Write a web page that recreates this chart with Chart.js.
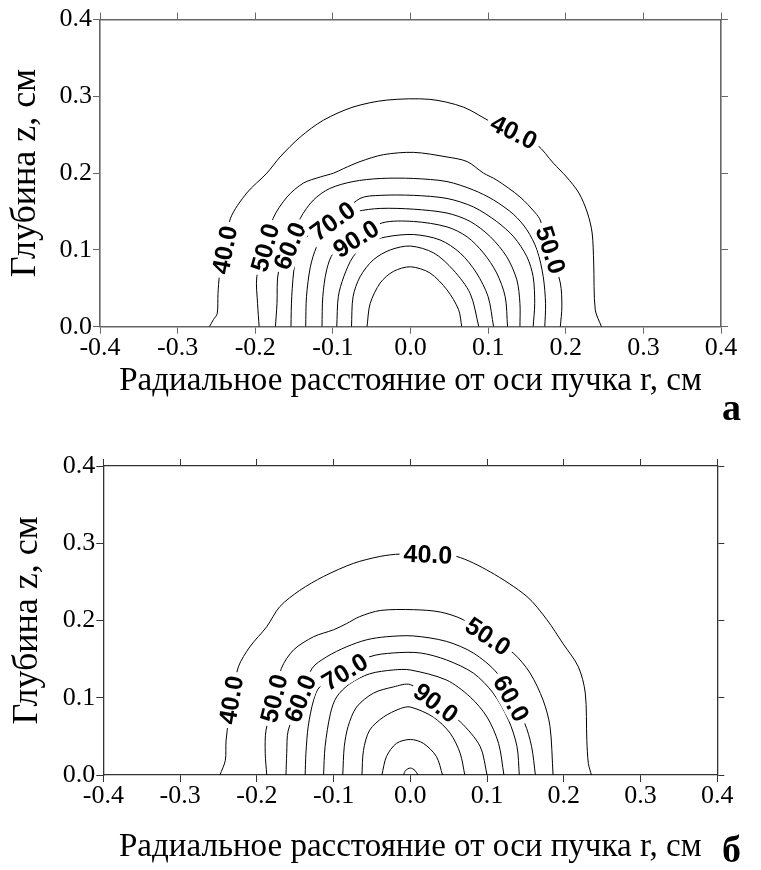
<!DOCTYPE html>
<html><head><meta charset="utf-8">
<script src="https://cdn.jsdelivr.net/npm/chart.js@4.4.1/dist/chart.umd.min.js"></script>
<style>
html,body{margin:0;padding:0;background:#fff;}
#wrap{position:relative;width:761px;height:870px;overflow:hidden;background:#fff;}
canvas{position:absolute;left:0;}
#cA{top:0px;} #cB{top:435px;}
.lbl{position:absolute;font-family:"Liberation Serif",serif;font-weight:bold;font-size:38px;line-height:1;color:#000;}
</style></head><body>
<div id="wrap">
<canvas id="cA" width="761" height="435"></canvas>
<canvas id="cB" width="761" height="435"></canvas>
<div class="lbl" style="left:722px;top:388px">а</div>
<div class="lbl" style="left:722px;top:830px">б</div>
</div>
<script>
// ---- tick labels / categories ----
const rTicks = [-0.4, -0.3, -0.2, -0.1, 0.0, 0.1, 0.2, 0.3, 0.4];
const zTicks = [0.0, 0.1, 0.2, 0.3, 0.4];
const levels = [40, 50, 60, 70, 80, 90, 100, 110, 120];
const xTitle = 'Радиальное расстояние от оси пучка r, см';
const yTitle = 'Глубина z, см';

// ---- panel а: contour lines [r, z] ----
const a40 = [[-0.259,0],[-0.254,0.009],[-0.249,0.017],[-0.248,0.043],[-0.246,0.067],[-0.239,0.100],[-0.232,0.141],[-0.211,0.174],[-0.185,0.200],[-0.168,0.221],[-0.142,0.247],[-0.112,0.269],[-0.074,0.286],[-0.031,0.295],[0.025,0.296],[0.068,0.286],[0.103,0.267],[0.133,0.253],[0.163,0.237],[0.184,0.213],[0.201,0.195],[0.217,0.174],[0.228,0.148],[0.234,0.122],[0.236,0.083],[0.238,0.022],[0.246,0]];
const a50 = [[-0.195,0],[-0.197,0.030],[-0.198,0.065],[-0.187,0.103],[-0.177,0.141],[-0.159,0.169],[-0.138,0.187],[-0.116,0.195],[-0.099,0.200],[-0.086,0.206],[-0.065,0.215],[-0.035,0.224],[0.004,0.227],[0.047,0.221],[0.073,0.215],[0.094,0.200],[0.111,0.191],[0.141,0.169],[0.161,0.148],[0.167,0.139],[0.180,0.100],[0.193,0.057],[0.195,0.026],[0.193,0]];
const a60 = [[-0.174,0],[-0.172,0.030],[-0.170,0.072],[-0.155,0.105],[-0.142,0.141],[-0.125,0.165],[-0.104,0.180],[-0.074,0.189],[-0.039,0.193],[0.004,0.193],[0.047,0.189],[0.081,0.178],[0.107,0.165],[0.133,0.146],[0.150,0.126],[0.163,0.100],[0.171,0.065],[0.174,0.030],[0.173,0]];
const a70 = [[-0.154,0],[-0.153,0.039],[-0.149,0.083],[-0.142,0.104],[-0.134,0.117],[-0.100,0.137],[-0.065,0.167],[-0.039,0.171],[0.004,0.171],[0.047,0.167],[0.081,0.156],[0.111,0.137],[0.133,0.117],[0.150,0.091],[0.158,0.065],[0.160,0.030],[0.158,0]];
const a80 = [[-0.135,0],[-0.134,0.039],[-0.129,0.078],[-0.121,0.104],[-0.108,0.126],[-0.091,0.141],[-0.069,0.150],[-0.039,0.154],[0.004,0.153],[0.047,0.148],[0.077,0.137],[0.103,0.117],[0.124,0.091],[0.137,0.061],[0.141,0.030],[0.141,0]];
const a90 = [[-0.114,0],[-0.113,0.039],[-0.108,0.074],[-0.099,0.096],[-0.070,0.114],[-0.037,0.135],[0.004,0.137],[0.047,0.130],[0.073,0.117],[0.094,0.096],[0.111,0.070],[0.122,0.039],[0.125,0]];
const a100 = [[-0.095,0],[-0.093,0.039],[-0.086,0.065],[-0.074,0.091],[-0.056,0.109],[-0.031,0.117],[0.004,0.120],[0.038,0.113],[0.064,0.096],[0.085,0.070],[0.100,0.039],[0.107,0]];
const a110 = [[-0.076,0],[-0.074,0.039],[-0.065,0.065],[-0.048,0.087],[-0.026,0.100],[0.000,0.105],[0.030,0.096],[0.055,0.074],[0.077,0.043],[0.088,0]];
const a120 = [[-0.056,0],[-0.052,0.030],[-0.039,0.057],[-0.022,0.072],[0.000,0.078],[0.025,0.070],[0.047,0.048],[0.062,0.022],[0.066,0]];
const aLabels = [[40,-0.239,0.100],[50,-0.187,0.103],[60,-0.155,0.105],[70,-0.100,0.137],[90,-0.070,0.114],[40,0.133,0.253],[50,0.180,0.100]];

// ---- panel б: contour lines [r, z] ----
const b40 = [[-0.248,0],[-0.241,0.019],[-0.240,0.045],[-0.233,0.097],[-0.224,0.140],[-0.209,0.166],[-0.187,0.192],[-0.170,0.218],[-0.144,0.239],[-0.113,0.257],[-0.074,0.274],[-0.039,0.283],[-0.013,0.286],[0.023,0.285],[0.060,0.283],[0.104,0.263],[0.152,0.231],[0.178,0.201],[0.199,0.170],[0.219,0.140],[0.228,0.106],[0.230,0.045],[0.232,0.015],[0.236,0]];
const b50 = [[-0.187,0],[-0.189,0.028],[-0.188,0.058],[-0.177,0.099],[-0.168,0.138],[-0.152,0.162],[-0.126,0.179],[-0.100,0.188],[-0.083,0.196],[-0.066,0.205],[-0.039,0.213],[0.004,0.214],[0.039,0.211],[0.069,0.201],[0.101,0.179],[0.134,0.158],[0.156,0.132],[0.173,0.097],[0.182,0.063],[0.186,0]];
const b60 = [[-0.162,0],[-0.161,0.028],[-0.159,0.058],[-0.143,0.099],[-0.128,0.138],[-0.109,0.153],[-0.083,0.166],[-0.057,0.175],[-0.031,0.179],[0.004,0.180],[0.047,0.173],[0.082,0.158],[0.113,0.132],[0.131,0.099],[0.149,0.067],[0.158,0.037],[0.163,0]];
const b70 = [[-0.137,0],[-0.136,0.028],[-0.133,0.063],[-0.126,0.097],[-0.118,0.114],[-0.085,0.133],[-0.053,0.153],[-0.022,0.158],[0.013,0.158],[0.047,0.149],[0.082,0.132],[0.108,0.106],[0.128,0.071],[0.139,0.037],[0.142,0]];
const b80 = [[-0.113,0],[-0.111,0.037],[-0.104,0.080],[-0.096,0.101],[-0.079,0.118],[-0.053,0.131],[-0.022,0.136],[0.000,0.136],[0.047,0.123],[0.078,0.101],[0.100,0.075],[0.115,0.041],[0.122,0]];
const b90 = [[-0.088,0],[-0.086,0.037],[-0.081,0.063],[-0.070,0.088],[-0.048,0.106],[-0.022,0.114],[0.000,0.117],[0.033,0.093],[0.065,0.069],[0.091,0.037],[0.100,0]];
const b100 = [[-0.063,0],[-0.061,0.032],[-0.053,0.058],[-0.035,0.075],[-0.013,0.086],[0.000,0.088],[0.030,0.075],[0.052,0.054],[0.065,0.028],[0.071,0]];
const b110 = [[-0.037,0],[-0.031,0.024],[-0.018,0.041],[0.000,0.046],[0.017,0.041],[0.034,0.024],[0.042,0]];
const b120 = [[-0.009,0],[-0.006,0.006],[0.000,0.009],[0.006,0.006],[0.010,0]];
const bLabels = [[40,-0.233,0.097],[50,-0.177,0.099],[60,-0.143,0.099],[70,-0.085,0.133],[40,0.023,0.285],[50,0.101,0.179],[60,0.131,0.099],[90,0.033,0.093]];

const contoursA = {40:a40,50:a50,60:a60,70:a70,80:a80,90:a90,100:a100,110:a110,120:a120};
const contoursB = {40:b40,50:b50,60:b60,70:b70,80:b80,90:b90,100:b100,110:b110,120:b120};

const SERIF = '"Liberation Serif", "Times New Roman", serif';
const fmt = v => (Math.abs(v) < 1e-9 ? '0.0' : Number(v).toFixed(1));

function labelPlugin(contours, labels) {
  return {
    id: 'contourLabels',
    afterDatasetsDraw(chart) {
      const ctx = chart.ctx, x = chart.scales.x, y = chart.scales.y;
      ctx.save();
      ctx.font = 'bold 25px "Liberation Sans", Arial, sans-serif';
      ctx.textAlign = 'center';
      ctx.textBaseline = 'middle';
      labels.forEach(([lev, r, z]) => {
        const pts = contours[lev];
        let bi = 0, bd = Infinity;
        pts.forEach((p, i) => { const d = (p[0]-r)**2 + (p[1]-z)**2; if (d < bd) { bd = d; bi = i; } });
        const p0 = pts[Math.max(0, bi-1)], p1 = pts[Math.min(pts.length-1, bi+1)];
        const dx = x.getPixelForValue(p1[0]) - x.getPixelForValue(p0[0]);
        const dy = y.getPixelForValue(p1[1]) - y.getPixelForValue(p0[1]);
        let ang = Math.atan2(dy, dx);
        if (ang > Math.PI/2) ang -= Math.PI;
        if (ang < -Math.PI/2) ang += Math.PI;
        const px = x.getPixelForValue(r), py = y.getPixelForValue(z);
        const txt = lev.toFixed(1);
        const w = ctx.measureText(txt).width;
        ctx.save();
        ctx.translate(px, py);
        ctx.rotate(ang);
        ctx.fillStyle = '#fff';
        ctx.fillRect(-w/2 - 4, -12, w + 8, 24);
        ctx.fillStyle = '#000';
        ctx.fillText(txt, 0, 1);
        ctx.restore();
      });
      ctx.restore();
    }
  };
}

function makeChart(id, contours, labels, cfg) {
  const axisCommon = pos => ({
    type: 'linear', position: pos,
    grid: { display: true, drawOnChartArea: false, drawTicks: true, tickLength: 7, color: cfg.axisColor, lineWidth: 1 },
    border: { display: true, color: cfg.axisColor, width: cfg.axisWidth }
  });
  const setR = s => { s.ticks = rTicks.map(v => ({ value: v })); };
  const setZ = s => { s.ticks = zTicks.map(v => ({ value: v })); };
  const tickFont = { family: SERIF, size: 26, lineHeight: 1 };
  return new Chart(document.getElementById(id), {
    type: 'scatter',
    data: {
      datasets: levels.map(l => ({
        label: String(l),
        data: contours[l].map(([r, z]) => ({ x: r, y: z })),
        showLine: true, borderColor: '#000', borderWidth: 1,
        pointRadius: 0, pointHoverRadius: 0, tension: 0.3, fill: false
      }))
    },
    options: {
      responsive: false, animation: false, devicePixelRatio: 1,
      layout: { padding: 0 },
      plugins: { legend: { display: false }, tooltip: { enabled: false } },
      events: [],
      scales: {
        x: Object.assign(axisCommon('bottom'), {
          min: -0.4, max: 0.4, afterBuildTicks: setR,
          ticks: { font: tickFont, color: '#000', padding: 1, maxRotation: 0, autoSkip: false, callback: v => fmt(v) },
          title: { display: true, text: xTitle, color: '#000', font: { family: SERIF, size: 33 }, padding: { top: 0, bottom: cfg.xTitlePad } },
          afterFit: s => { s.height = cfg.bottomH; }
        }),
        xTop: Object.assign(axisCommon('top'), {
          min: -0.4, max: 0.4, afterBuildTicks: setR,
          ticks: { display: false },
          afterFit: s => { s.height = cfg.topH; }
        }),
        y: Object.assign(axisCommon('left'), {
          min: 0, max: 0.4, afterBuildTicks: setZ,
          ticks: { font: tickFont, color: '#000', padding: 1, autoSkip: false, callback: v => fmt(v) },
          title: { display: true, text: yTitle, color: '#000', font: { family: SERIF, size: 36 }, padding: { top: cfg.yTitlePad, bottom: 0 } },
          afterFit: s => { s.width = cfg.leftW; }
        }),
        yRight: Object.assign(axisCommon('right'), {
          min: 0, max: 0.4, afterBuildTicks: setZ,
          ticks: { display: false },
          afterFit: s => { s.width = cfg.rightW; }
        })
      }
    },
    plugins: [labelPlugin(contours, labels)]
  });
}

makeChart('cA', contoursA, aLabels, { axisColor: '#666', axisWidth: 1.6, topH: 19.5, bottomH: 108.3, leftW: 100, rightW: 40, xTitlePad: 34, yTitlePad: 4 });
makeChart('cB', contoursB, bLabels, { axisColor: '#333', axisWidth: 1.3, topH: 31, bottomH: 95, leftW: 103.3, rightW: 43.7, xTitlePad: 3.2, yTitlePad: 6.2 });
</script>
</body></html>
